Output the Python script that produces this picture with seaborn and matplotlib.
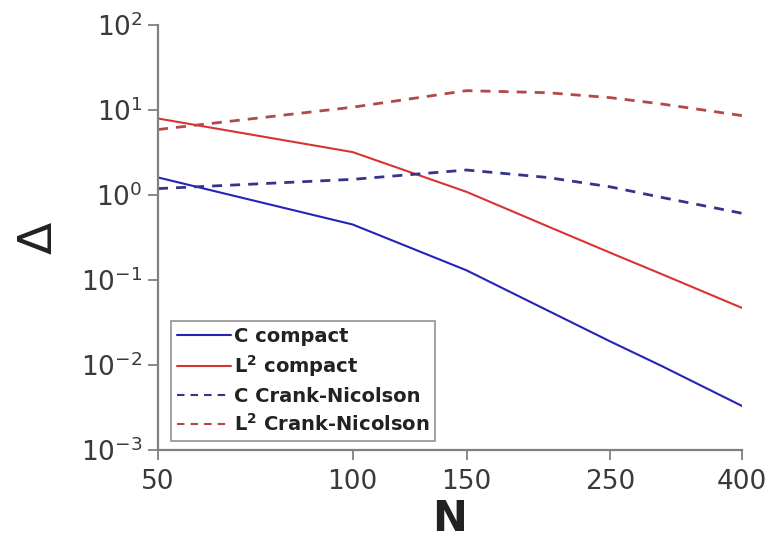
import numpy as np
import pandas as pd
import matplotlib
matplotlib.use("Agg")
import matplotlib.pyplot as plt
import seaborn as sns
from matplotlib.ticker import FixedLocator, FixedFormatter, NullLocator

# ---- data ----
N = [50, 100, 150, 200, 250, 300, 400]
c_compact = [1.61, 0.45, 0.13, 0.044, 0.019, 0.0098, 0.0033]
l2_compact = [7.95, 3.2, 1.09, 0.43, 0.21, 0.118, 0.047]
c_cn = [1.19, 1.53, 1.97, 1.61, 1.25, 0.94, 0.61]
l2_cn = [5.9, 10.8, 16.9, 16.0, 14.0, 11.8, 8.6]

series_names = ["C compact", r"L$^\mathbf{2}$ compact",
                "C Crank-Nicolson", r"L$^\mathbf{2}$ Crank-Nicolson"]
series_vals = [c_compact, l2_compact, c_cn, l2_cn]
x_ticks = [50, 100, 150, 250, 400]
x_ticklabels = ["50", "100", "150", "250", "400"]

df = pd.DataFrame({
    "N": N * 4,
    "Delta": sum(series_vals, []),
    "series": sum([[s] * len(N) for s in series_names], []),
})

sns.set_theme(style="white")
plt.rcParams["font.family"] = ["DejaVu Sans"]
plt.rcParams["mathtext.default"] = "regular"

palette = {series_names[0]: "#2424b8", series_names[1]: "#d83434",
           series_names[2]: "#34348a", series_names[3]: "#b44848"}
dashes = {series_names[0]: "", series_names[1]: "",
          series_names[2]: (3.6, 2.9), series_names[3]: (3.6, 2.9)}

fig = plt.figure(figsize=(7.73, 5.42), dpi=100)
ax = fig.add_axes([0.2044, 0.1697, 0.7555, 0.7841])

sns.lineplot(data=df, x="N", y="Delta", hue="series", style="series",
             palette=palette, dashes=dashes, hue_order=series_names,
             style_order=series_names, linewidth=1.5, ax=ax)
# dashed lines a bit heavier, as in the reference
for line in ax.get_lines():
    if line.get_linestyle() not in ("-", "solid"):
        line.set_linewidth(2.0)

ax.set_xscale("log")
ax.set_yscale("log")
ax.set_xlim(50, 400)
ax.set_ylim(1e-3, 1e2)
ax.xaxis.set_major_locator(FixedLocator(x_ticks))
ax.xaxis.set_major_formatter(FixedFormatter(x_ticklabels))
ax.xaxis.set_minor_locator(NullLocator())
ax.yaxis.set_minor_locator(NullLocator())

for s in ["top", "right"]:
    ax.spines[s].set_visible(False)
for s in ["left", "bottom"]:
    ax.spines[s].set_color("#808080")
    ax.spines[s].set_linewidth(1.6)

ax.tick_params(axis="both", which="major", direction="out", length=7,
               width=1.3, color="#808080", labelsize=19, labelcolor="#3a3a3a",
               left=True, bottom=True)
ax.tick_params(axis="y", pad=4)
ax.tick_params(axis="x", pad=7)

ax.set_xlabel("N", fontsize=30, fontweight="bold", color="#222222", labelpad=2)
ax.set_ylabel("Δ", fontsize=34, color="#222222", labelpad=14)

leg = ax.legend(loc="lower left", bbox_to_anchor=(0.022, 0.022), frameon=True,
                prop={"weight": "bold", "size": 14}, handlelength=2.8,
                handletextpad=0.15, labelspacing=0.38, borderpad=0.3,
                fancybox=False, borderaxespad=0)
leg.get_frame().set_edgecolor("#777777")
leg.get_frame().set_linewidth(1.2)
for t in leg.get_texts():
    t.set_color("#222222")
for h in leg.get_lines():
    h.set_linewidth(1.5)

fig.savefig("out.png", dpi=100, facecolor="white")
